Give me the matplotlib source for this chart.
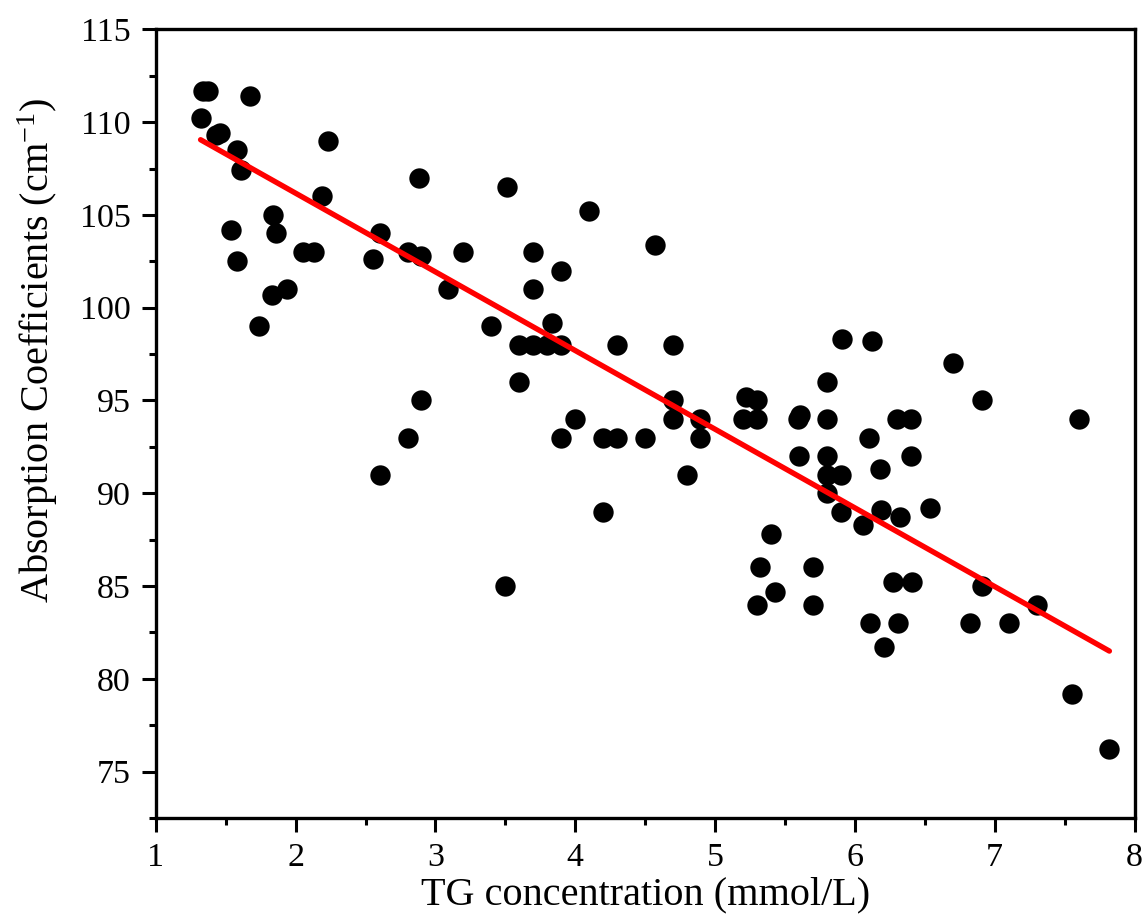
import matplotlib
matplotlib.use("Agg")
import matplotlib.pyplot as plt
import numpy as np
from matplotlib.ticker import MultipleLocator

plt.rcParams['font.family'] = ['Liberation Serif', 'DejaVu Serif']
plt.rcParams['mathtext.fontset'] = 'custom'
plt.rcParams['mathtext.rm'] = 'Liberation Serif'
plt.rcParams['mathtext.it'] = 'Liberation Serif:italic'

tg = [1.32, 1.34, 1.37, 1.67, 1.43, 1.46, 1.58, 1.61, 2.23, 2.19, 2.88, 3.51,
      1.84, 1.86, 1.54, 1.58, 2.05, 2.13, 2.55, 2.60, 2.80, 2.90, 3.20, 3.09,
      1.83, 1.94, 1.74, 2.90, 2.80, 2.60, 3.40, 4.10, 4.57, 3.70, 3.90, 3.70,
      3.83, 3.60, 3.70, 3.80, 3.90, 3.60, 4.30, 4.70, 4.00, 3.90, 4.20, 4.30,
      4.50, 4.20, 4.70, 4.70, 4.89, 4.89, 4.80, 5.22, 5.30, 5.20, 5.30, 5.59,
      5.61, 5.60, 5.80, 5.80, 5.80, 5.80, 5.90, 5.80, 5.90, 6.06, 5.91, 6.12,
      6.10, 6.18, 6.19, 5.40, 5.32, 5.70, 3.50, 6.70, 6.91, 6.30, 6.40, 7.60,
      6.40, 6.54, 6.32, 6.27, 6.41, 6.91, 7.30, 6.11, 6.31, 6.21, 6.82, 7.10,
      7.55, 7.82, 5.43, 5.30, 5.70]
absorb = [110.2, 111.7, 111.7, 111.4, 109.3, 109.4, 108.5, 107.4, 109.0, 106.0, 107.0, 106.5,
          105.0, 104.0, 104.2, 102.5, 103.0, 103.0, 102.6, 104.0, 103.0, 102.8, 103.0, 101.0,
          100.7, 101.0, 99.0, 95.0, 93.0, 91.0, 99.0, 105.2, 103.4, 103.0, 102.0, 101.0,
          99.2, 98.0, 98.0, 98.0, 98.0, 96.0, 98.0, 98.0, 94.0, 93.0, 93.0, 93.0,
          93.0, 89.0, 95.0, 94.0, 94.0, 93.0, 91.0, 95.2, 95.0, 94.0, 94.0, 94.0,
          94.2, 92.0, 96.0, 94.0, 92.0, 91.0, 91.0, 90.0, 89.0, 88.3, 98.3, 98.2,
          93.0, 91.3, 89.1, 87.8, 86.0, 86.0, 85.0, 97.0, 95.0, 94.0, 94.0, 94.0,
          92.0, 89.2, 88.7, 85.2, 85.2, 85.0, 84.0, 83.0, 83.0, 81.7, 83.0, 83.0,
          79.2, 76.2, 84.7, 84.0, 84.0]

fit_intercept = 114.65
fit_slope = -4.24

fig = plt.figure(figsize=(11.46, 9.19), dpi=100)
ax = fig.add_axes([0.136, 0.110, 0.854, 0.858])

ax.scatter(tg, absorb, s=215, color='black', zorder=2, linewidths=0)
xf = np.array([min(tg), max(tg)])
ax.plot(xf, fit_intercept + fit_slope * xf, color='#ff0000', lw=3.9, zorder=3,
        solid_capstyle='round')

ax.set_xlim(1, 8)
ax.set_ylim(72.5, 115)
ax.xaxis.set_major_locator(MultipleLocator(1))
ax.xaxis.set_minor_locator(MultipleLocator(0.5))
ax.yaxis.set_major_locator(MultipleLocator(5))
ax.yaxis.set_minor_locator(MultipleLocator(2.5))

for s in ax.spines.values():
    s.set_linewidth(2.4)
ax.tick_params(which='major', direction='out', length=10, width=2.2,
               labelsize=24.5, pad=8, top=False, right=False)
ax.tick_params(which='minor', direction='out', length=5, width=2.2,
               top=False, right=False)

ax.set_xlabel('TG concentration (mmol/L)', fontsize=29, labelpad=2)
ax.set_ylabel(r'Absorption Coefficients (cm$^{\mathregular{-1}}$)', fontsize=29)
ax.yaxis.set_label_coords(-0.098, 0.593)

fig.savefig('out.png', dpi=100)
